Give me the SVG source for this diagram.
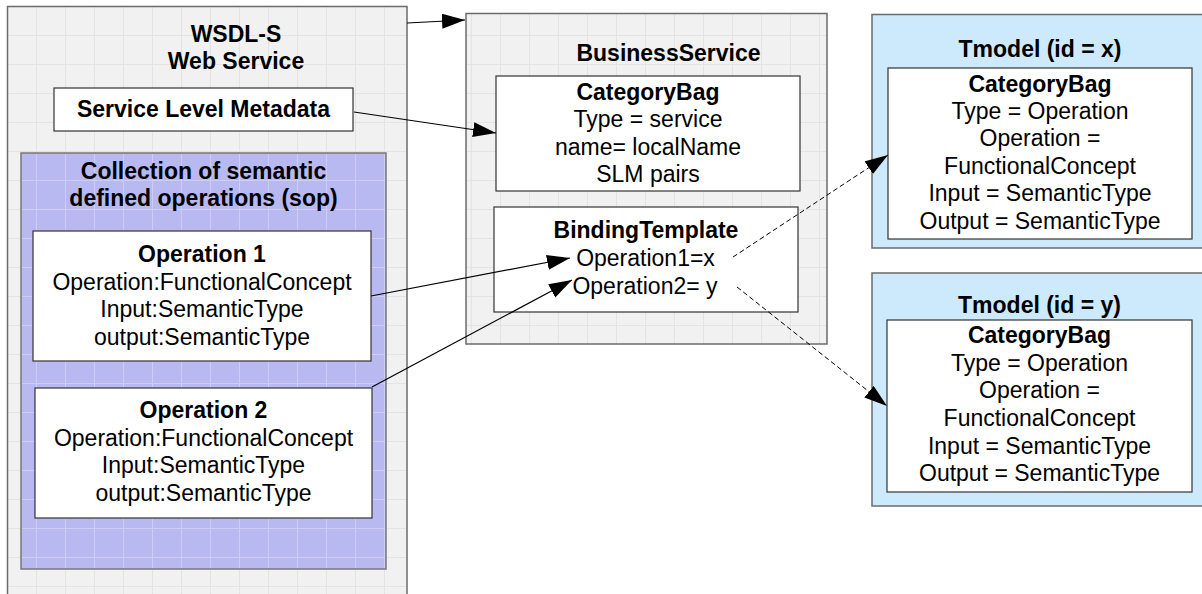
<svg xmlns="http://www.w3.org/2000/svg" width="1202" height="594" viewBox="0 0 1202 594">
<style>
text{font-family:"Liberation Sans",Arial,sans-serif;font-size:23px;fill:#000;text-anchor:middle}
.b{font-weight:bold}
.frame{stroke:#6b6b6b;stroke-width:1.5}
.inner{fill:#fff;stroke:#333;stroke-width:1.2}
.tm{fill:#cdeafd;stroke:#6b6b6b;stroke-width:1.5}
.conn{stroke:#000;stroke-width:1.2;fill:none}
.dash{stroke-dasharray:5 3;stroke-width:1}
</style>
<defs>
<pattern id="gridGray" x="7" y="6" width="29" height="29" patternUnits="userSpaceOnUse">
<rect width="29" height="29" fill="#f1f1f1"/>
<path d="M0 0.5H29M0.5 0V29" stroke="#e3e3e3" stroke-width="1"/>
</pattern>
<pattern id="gridLav" x="7" y="6" width="29" height="29" patternUnits="userSpaceOnUse">
<rect width="29" height="29" fill="#b9b9f1"/>
<path d="M0 0.5H29M0.5 0V29" stroke="#cdcdf6" stroke-width="1"/>
</pattern>
<marker id="arr" markerUnits="userSpaceOnUse" markerWidth="24" markerHeight="16" refX="23" refY="7.5" orient="auto">
<path d="M0,0 L23,7.5 L0,15 Z" fill="#000"/>
</marker>
</defs>
<rect width="1202" height="594" fill="#fff"/>

<g id="wsdl">
<rect class="frame" x="7.5" y="6.5" width="399.5" height="600" fill="url(#gridGray)"/>
<text class="b" x="236" y="41.5">WSDL-S</text>
<text class="b" x="236" y="69">Web Service</text>
</g>

<g id="slm">
<rect class="inner" x="54" y="88" width="299" height="43"/>
<text class="b" x="203.5" y="117">Service Level Metadata</text>
</g>

<g id="sop">
<rect x="21" y="153" width="365" height="416" fill="url(#gridLav)" stroke="#777" stroke-width="1.5"/>
<text class="b" x="203.5" y="179">Collection of semantic</text>
<text class="b" x="203.5" y="206">defined operations (sop)</text>
</g>

<g id="op1">
<rect class="inner" x="33" y="231" width="338" height="130"/>
<text class="b" x="202" y="262">Operation 1</text>
<text x="202" y="289.5">Operation:FunctionalConcept</text>
<text x="202" y="317">Input:SemanticType</text>
<text x="202" y="344.5">output:SemanticType</text>
</g>

<g id="op2">
<rect class="inner" x="35" y="388" width="337" height="130"/>
<text class="b" x="203.5" y="418">Operation 2</text>
<text x="203.5" y="445.5">Operation:FunctionalConcept</text>
<text x="203.5" y="473">Input:SemanticType</text>
<text x="203.5" y="500.5">output:SemanticType</text>
</g>

<g id="businessService">
<rect class="frame" x="466" y="13.5" width="361" height="330.5" fill="url(#gridGray)"/>
<text class="b" x="668.5" y="61">BusinessService</text>
</g>

<g id="categoryBag">
<rect class="inner" x="496" y="76" width="304" height="115"/>
<text class="b" x="648" y="100">CategoryBag</text>
<text x="648" y="127">Type = service</text>
<text x="648" y="154.5">name= localName</text>
<text x="648" y="182">SLM pairs</text>
</g>

<g id="bindingTemplate">
<rect class="inner" x="494" y="207" width="304" height="105"/>
<text class="b" x="646" y="238">BindingTemplate</text>
<text x="645.5" y="266">Operation1=x</text>
<text x="645" y="294">Operation2= y</text>
</g>

<g id="tmodelX">
<rect class="tm" x="872" y="14.5" width="340" height="233.5"/>
<text class="b" x="1040" y="57">Tmodel (id = x)</text>
<rect class="inner" x="888" y="68" width="304" height="171"/>
<text class="b" x="1040" y="92">CategoryBag</text>
<text x="1040" y="119">Type = Operation</text>
<text x="1040" y="146">Operation =</text>
<text x="1040" y="174">FunctionalConcept</text>
<text x="1040" y="201">Input = SemanticType</text>
<text x="1040" y="228.5">Output = SemanticType</text>
</g>

<g id="tmodelY">
<rect class="tm" x="872" y="273" width="340" height="233"/>
<text class="b" x="1039.5" y="313">Tmodel (id = y)</text>
<rect class="inner" x="887" y="320" width="305" height="172"/>
<text class="b" x="1039.5" y="343">CategoryBag</text>
<text x="1039.5" y="371">Type = Operation</text>
<text x="1039.5" y="398">Operation =</text>
<text x="1039.5" y="426">FunctionalConcept</text>
<text x="1039.5" y="453.5">Input = SemanticType</text>
<text x="1039.5" y="481">Output = SemanticType</text>
</g>

<g id="connectors">
<line class="conn" x1="407" y1="23" x2="465" y2="20" marker-end="url(#arr)"/>
<line class="conn" x1="354" y1="112" x2="496" y2="133" marker-end="url(#arr)"/>
<line class="conn" x1="371" y1="296" x2="570" y2="258" marker-end="url(#arr)"/>
<line class="conn" x1="372" y1="387" x2="572" y2="280" marker-end="url(#arr)"/>
<line class="conn dash" x1="733" y1="257" x2="888" y2="155" marker-end="url(#arr)"/>
<line class="conn dash" x1="737" y1="287" x2="887" y2="406" marker-end="url(#arr)"/>
</g>
</svg>
